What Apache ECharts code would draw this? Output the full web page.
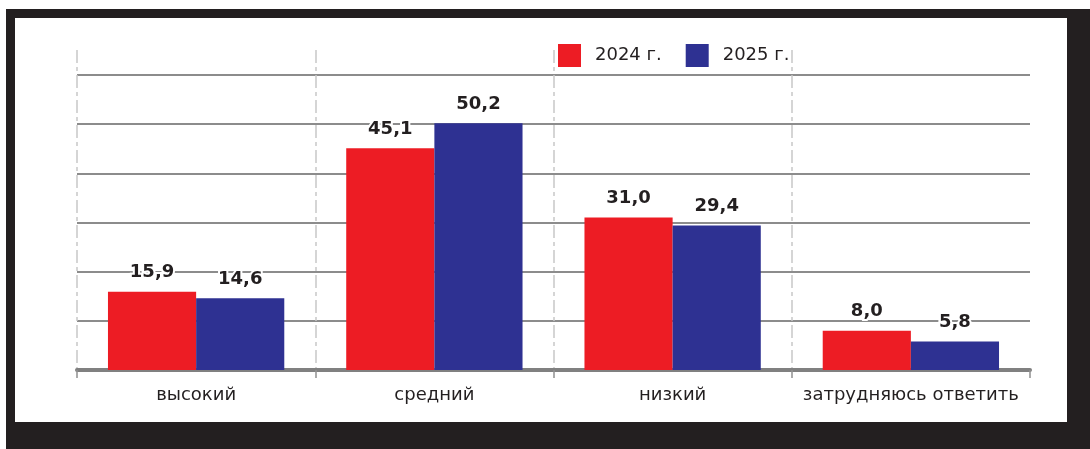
<!DOCTYPE html>
<html>
<head>
<meta charset="utf-8">
<script src="https://cdn.jsdelivr.net/npm/echarts@6/dist/echarts.min.js"></script>
<style>
html,body{margin:0;padding:0;background:#fff;}
#c{width:1090px;height:449px;}
</style>
</head>
<body>
<div id="c"></div>
<script>
const categories = ['высокий', 'средний', 'низкий', 'затрудняюсь ответить'];
const series2024 = [15.9, 45.1, 31.0, 8.0];
const series2025 = [14.6, 50.2, 29.4, 5.8];
const seriesNames = ['2024 г.', '2025 г.'];

const FONT = "'DejaVu Sans', sans-serif";
const TEXT = '#231f20';
const fmt = p => p.value.toFixed(1).replace('.', ',');

const labelCfg = {
  show: true, position: 'top', distance: 10,
  formatter: fmt, color: TEXT, fontSize: 18, fontWeight: 'bold', fontFamily: FONT,
  textBorderColor: '#fff', textBorderWidth: 4
};

const chart = echarts.init(document.getElementById('c'), null, {renderer: 'canvas'});
chart.setOption({
  animation: false,
  graphic: [
    {type: 'rect', z: -100, silent: true, shape: {x: 6, y: 9, width: 1084, height: 440}, style: {fill: '#231f20'}},
    {type: 'rect', z: -99, silent: true, shape: {x: 15, y: 18, width: 1052, height: 404}, style: {fill: '#ffffff'}}
  ],
  legend: {
    data: seriesNames,
    left: 558, top: 44, padding: 0,
    itemWidth: 23, itemHeight: 23, itemGap: 24,
    icon: 'rect',
    textStyle: {fontSize: 18, color: TEXT, fontFamily: FONT, padding: [0, 0, 0, 9]}
  },
  grid: [
    {left: 77, right: 60, top: 75, bottom: 79},
    {left: 77, width: 715, top: 50, bottom: 79}
  ],
  xAxis: [
    {
      type: 'category', gridIndex: 0, data: categories,
      axisLine: {lineStyle: {color: '#808080', width: 4}},
      axisTick: {show: true, interval: 0, length: 8, lineStyle: {color: '#909090', width: 1.5}},
      axisLabel: {interval: 0, fontSize: 18, color: TEXT, fontFamily: FONT, margin: 16},
      splitLine: {show: false}
    },
    {
      type: 'value', gridIndex: 1, min: 0, max: 3, interval: 1,
      axisLine: {show: false}, axisTick: {show: false}, axisLabel: {show: false},
      splitLine: {show: true, lineStyle: {color: '#c8c8c8', width: 1.5, type: [13, 4, 4, 4]}}
    }
  ],
  yAxis: [
    {
      type: 'value', gridIndex: 0, min: 0, max: 60, interval: 10,
      axisLine: {show: false}, axisTick: {show: false}, axisLabel: {show: false},
      splitLine: {show: true, lineStyle: {color: '#8c8c8c', width: 2}}
    },
    {
      type: 'value', gridIndex: 1, min: 0, max: 1,
      axisLine: {show: false}, axisTick: {show: false}, axisLabel: {show: false},
      splitLine: {show: false}
    }
  ],
  series: [
    {
      name: seriesNames[0], type: 'bar', xAxisIndex: 0, yAxisIndex: 0,
      data: series2024, itemStyle: {color: '#ed1c24'},
      barGap: '0%', barCategoryGap: '26%', label: labelCfg, z: 3
    },
    {
      name: seriesNames[1], type: 'bar', xAxisIndex: 0, yAxisIndex: 0,
      data: series2025, itemStyle: {color: '#2e3192'},
      barGap: '0%', barCategoryGap: '26%', label: labelCfg, z: 3
    }
  ]
});
</script>
</body>
</html>
